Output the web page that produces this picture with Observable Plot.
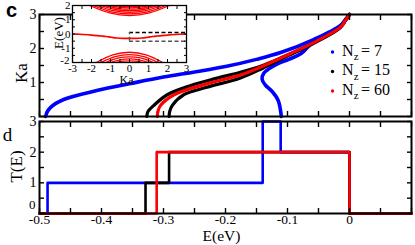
<!DOCTYPE html>
<html><head><meta charset="utf-8">
<script src="https://cdn.jsdelivr.net/npm/d3@7"></script>
<script src="https://cdn.jsdelivr.net/npm/@observablehq/plot@0.6"></script>
<style>
body{margin:0;background:#fff;}
#wrap{position:relative;width:415px;height:245px;overflow:hidden;background:#fff;}
#wrap svg{position:absolute;left:0;top:0;}
</style></head><body><div id="wrap"></div>
<script>
// ---------- data: panel c, Ka versus E ----------
const E_n7_main  = [-0.490,-0.488,-0.482,-0.461,-0.406,-0.353,-0.300,-0.250,-0.200,-0.150,-0.111,-0.057,-0.015,-0.006,0.000];
const Ka_n7_main = [0,0.12,0.27,0.50,0.77,0.97,1.16,1.31,1.47,1.68,1.88,2.27,2.67,2.86,3.0];
const E_n7_branch  = [-0.110,-0.111,-0.115,-0.124,-0.136,-0.141,-0.138,-0.130,-0.117,-0.098,-0.078,-0.057,-0.015,-0.006,0.000];
const Ka_n7_branch = [0,0.15,0.47,0.72,0.93,1.10,1.28,1.40,1.54,1.68,1.85,2.22,2.66,2.85,3.0];
const E_n15_a  = [-0.327,-0.325,-0.316,-0.294,-0.256,-0.215,-0.176,-0.140,-0.111,-0.057,-0.015,-0.006,0.000];
const Ka_n15_a = [0,0.15,0.32,0.64,0.91,1.12,1.30,1.50,1.72,2.18,2.62,2.84,3.0];
const E_n15_b  = [-0.291,-0.290,-0.286,-0.267,-0.230,-0.176,-0.140,-0.111,-0.057,-0.015,-0.006,0.000];
const Ka_n15_b = [0,0.15,0.32,0.64,0.86,1.13,1.42,1.68,2.16,2.61,2.84,3.0];
const E_n60  = [-0.310,-0.309,-0.305,-0.283,-0.230,-0.176,-0.140,-0.111,-0.057,-0.015,-0.006,0.000];
const Ka_n60 = [0,0.15,0.32,0.64,0.96,1.22,1.48,1.72,2.18,2.62,2.84,3.0];

// ---------- data: panel d, T(E) steps ----------
const stepE_n7  = [-0.5,-0.487,-0.140,-0.111,0,0.1];
const stepT_n7  = [0,1,3,2,0,0];
const stepE_n15 = [-0.5,-0.329,-0.291,0,0.1];
const stepT_n15 = [0,1,2,0,0];
const stepE_n60 = [-0.5,-0.311,0,0.1];
const stepT_n60 = [0,2,0,0];

// ---------- data: inset bands ----------
const upperBandKa = [
  [-2.10,-1.05,0,1.05,2.10],
  [-1.92,-0.96,0,0.96,1.92],
  [-1.72,-0.86,0,0.86,1.72],
  [-1.50,-0.75,0,0.75,1.50],
  [-1.27,-0.64,0,0.64,1.27],
  [-1.02,-0.51,0,0.51,1.02],
  [-0.72,-0.36,0,0.36,0.72]];
const upperBandE = [
  [2,1.48,1.30,1.48,2],
  [2,1.56,1.41,1.56,2],
  [2,1.64,1.52,1.64,2],
  [2,1.72,1.63,1.72,2],
  [2,1.80,1.74,1.80,2],
  [2,1.87,1.84,1.87,2],
  [2,1.94,1.93,1.94,2]];
const lowerBandKa = [
  [-1.75,-0.88,0,0.88,1.75],
  [-1.50,-0.75,0,0.75,1.50],
  [-1.25,-0.63,0,0.63,1.25],
  [-1.00,-0.50,0,0.50,1.00],
  [-0.70,-0.35,0,0.35,0.70]];
const lowerBandE = [
  [-2,-1.46,-1.28,-1.46,-2],
  [-2,-1.59,-1.45,-1.59,-2],
  [-2,-1.70,-1.60,-1.70,-2],
  [-2,-1.81,-1.75,-1.81,-2],
  [-2,-1.91,-1.88,-1.91,-2]];
const boxKa = [0, 3];
const boxE = [-0.5, 0.1];

// ---------- ticks and labels ----------
const xTickLabels = [-0.5,-0.4,-0.3,-0.2,-0.1,0];
const xTickMarks = [-0.5,-0.45,-0.4,-0.35,-0.3,-0.25,-0.2,-0.15,-0.1,-0.05,0,0.05,0.1];
const kaTickLabels = [1,2,3];
const yTickMarks = [0,0.5,1,1.5,2,2.5,3];
const tTickLabels = [1,2,3];
const tTickZero = [0];
const insetXLabels = [-3,-2,-1,0,1,2,3];
const insetXMarks = [-3,-2.5,-2,-1.5,-1,-0.5,0,0.5,1,1.5,2,2.5,3];
const insetYLabels = [-1,0,1,2];
const insetYLow = [-2];
const insetYMarks = [-2,-1.5,-1,-0.5,0,0.5,1,1.5,2];
const legendNz = ["7","15","60"];
const colors = {n7:"#0000ff", n15:"#000000", n60:"#ff0000"};

// ---------- build tables ----------
const zip = (xs, ys, kx, ky) => xs.map((v,i) => ({[kx]: v, [ky]: ys[i]}));
const c7a = zip(E_n7_main, Ka_n7_main, "E", "Ka");
const c7b = zip(E_n7_branch, Ka_n7_branch, "E", "Ka");
const c15a = zip(E_n15_a, Ka_n15_a, "E", "Ka");
const c15b = zip(E_n15_b, Ka_n15_b, "E", "Ka");
const c60 = zip(E_n60, Ka_n60, "E", "Ka");
const s7 = zip(stepE_n7, stepT_n7, "E", "T");
const s15 = zip(stepE_n15, stepT_n15, "E", "T");
const s60 = zip(stepE_n60, stepT_n60, "E", "T");
const bands = [];
upperBandKa.forEach((ks,b) => ks.forEach((k,i) => bands.push({band:"u"+b, Ka:k, E:upperBandE[b][i]})));
lowerBandKa.forEach((ks,b) => ks.forEach((k,i) => bands.push({band:"l"+b, Ka:k, E:lowerBandE[b][i]})));
const flat = [...c60.slice().reverse().map(d => ({Ka:-d.Ka, E:d.E})), ...c60.slice(1).map(d => ({Ka:d.Ka, E:d.E}))];

const font = "'Liberation Serif','Times New Roman',serif";
const style = {fontFamily: font, background: "transparent", overflow: "visible", color: "black"};
const fmt = d => String(d);
const blank = () => "";
const mid = {textAnchor:"middle", lineAnchor:"middle"};

function frameAxes(xt, yt, size, sw) {
  return [
    Plot.axisX({anchor:"bottom", ticks:xt, tickSize:-size, tickFormat:blank, label:null, strokeWidth:sw}),
    Plot.axisX({anchor:"top", ticks:xt, tickSize:-size, tickFormat:blank, label:null, strokeWidth:sw}),
    Plot.axisY({anchor:"left", ticks:yt, tickSize:-size, tickFormat:blank, label:null, strokeWidth:sw}),
    Plot.axisY({anchor:"right", ticks:yt, tickSize:-size, tickFormat:blank, label:null, strokeWidth:sw})
  ];
}

// ---------- panel c ----------
const legendMarks = [];
[["n7",0],["n15",1],["n60",2]].forEach(([k,i]) => {
  const base = 55 + i*19.5 - 14;
  legendMarks.push(
    Plot.dot([0], {frameAnchor:"top-left", dx:332-39, dy:base-3.5, r:1.7, fill:colors[k], stroke:null}),
    Plot.text(["N"], {frameAnchor:"top-left", dx:341.5-39, dy:base, textAnchor:"start", lineAnchor:"bottom", fontSize:16}),
    Plot.text(["z"], {frameAnchor:"top-left", dx:353.2-39, dy:base+4.5, textAnchor:"start", lineAnchor:"bottom", fontSize:11}),
    Plot.text(["= " + legendNz[i]], {frameAnchor:"top-left", dx:360.5-39, dy:base, textAnchor:"start", lineAnchor:"bottom", fontSize:16})
  );
});

const panelC = Plot.plot({
  width:415, height:245, marginLeft:39, marginRight:4, marginTop:14, marginBottom:129,
  x:{domain:[-0.5,0.1]}, y:{domain:[0,3]}, style,
  marks: [
    Plot.line(c7a, {x:"E", y:"Ka", stroke:colors.n7, strokeWidth:3.6, curve:"catmull-rom"}),
    Plot.line(c7b, {x:"E", y:"Ka", stroke:colors.n7, strokeWidth:3.6, curve:"catmull-rom"}),
    Plot.line(c15a, {x:"E", y:"Ka", stroke:colors.n15, strokeWidth:3.2, curve:"catmull-rom"}),
    Plot.line(c15b, {x:"E", y:"Ka", stroke:colors.n15, strokeWidth:3.2, curve:"catmull-rom"}),
    Plot.line(c60, {x:"E", y:"Ka", stroke:colors.n60, strokeWidth:3.2, curve:"catmull-rom"}),
    Plot.frame({stroke:"black", strokeWidth:2}),
    ...frameAxes(xTickMarks, yTickMarks, 5, 1.4),
    Plot.axisY({anchor:"left", ticks:kaTickLabels, tickSize:0, tickPadding:3, tickFormat:fmt, label:null, fontSize:14}),
    Plot.text(["Ka"], {frameAnchor:"left", dx:-17.5, dy:7.5, rotate:-90, fontSize:17, ...mid}),
    Plot.text(["c"], {frameAnchor:"top-left", dx:-28, dy:-4, fontSize:20, fontWeight:"bold", fontFamily:"'Liberation Sans',sans-serif", ...mid}),
    ...legendMarks
  ]
});

// ---------- panel d ----------
const panelD = Plot.plot({
  width:415, height:245, marginLeft:39, marginRight:4, marginTop:121, marginBottom:32,
  x:{domain:[-0.5,0.1]}, y:{domain:[0,3]}, style,
  marks: [
    Plot.line(s7, {x:"E", y:"T", stroke:colors.n7, strokeWidth:2.6, curve:"step-after"}),
    Plot.line(s15, {x:"E", y:"T", stroke:colors.n15, strokeWidth:2.6, curve:"step-after"}),
    Plot.line(s60, {x:"E", y:"T", stroke:colors.n60, strokeWidth:2.6, curve:"step-after"}),
    Plot.frame({stroke:"black", strokeWidth:2}),
    ...frameAxes(xTickMarks, yTickMarks, 5, 1.4),
    Plot.axisY({anchor:"left", ticks:tTickLabels, tickSize:0, tickPadding:3, tickFormat:fmt, label:null, fontSize:14}),
    Plot.axisY({anchor:"left", ticks:tTickZero, tickSize:0, tickPadding:4, dy:-8.5, tickFormat:fmt, label:null, fontSize:13}),
    Plot.axisX({anchor:"bottom", ticks:xTickLabels, tickSize:0, tickPadding:1, tickFormat:fmt, label:null, fontSize:13.5}),
    Plot.text(["T(E)"], {frameAnchor:"left", dx:-23, dy:-1, rotate:-90, fontSize:17, ...mid}),
    Plot.text(["E(eV)"], {frameAnchor:"bottom", dx:-4, dy:23, fontSize:15.5, ...mid}),
    Plot.text(["d"], {frameAnchor:"top-left", dx:-32, dy:13, fontSize:19, ...mid})
  ]
});

// ---------- inset ----------
const panelInset = Plot.plot({
  width:415, height:245, marginLeft:72, marginRight:229, marginTop:5, marginBottom:183,
  x:{domain:[-3,3]}, y:{domain:[-2,2]}, style,
  marks: [
    Plot.frame({fill:"white", stroke:null}),
    Plot.line(bands, {x:"Ka", y:"E", z:"band", stroke:"#ff0000", strokeWidth:1.3, curve:"catmull-rom", clip:true}),
    Plot.line(flat, {x:"Ka", y:"E", stroke:"#ff0000", strokeWidth:1.6, curve:"catmull-rom", clip:true}),
    Plot.ruleY([boxE[1]], {x1:boxKa[0], x2:boxKa[1], stroke:"black", strokeWidth:1.5, strokeDasharray:"4,2.5"}),
    Plot.ruleY([boxE[0]], {x1:boxKa[0], x2:boxKa[1], stroke:"#555", strokeWidth:1.5, strokeDasharray:"4,2.5"}),
    Plot.ruleX([boxKa[0]], {y1:boxE[0], y2:boxE[1], stroke:"#555", strokeWidth:1.5, strokeDasharray:"4,2.5"}),
    Plot.frame({stroke:"black", strokeWidth:1.3}),
    ...frameAxes(insetXMarks, insetYMarks, 3, 1),
    Plot.axisX({anchor:"bottom", ticks:insetXLabels, tickSize:0, tickPadding:1.5, tickFormat:fmt, label:null, fontSize:11}),
    Plot.axisY({anchor:"left", ticks:insetYLabels, tickSize:0, tickPadding:2, tickFormat:fmt, label:null, fontSize:11}),
    Plot.axisY({anchor:"left", ticks:insetYLow, tickSize:0, tickPadding:3, dy:-2, tickFormat:fmt, label:null, fontSize:11}),
    Plot.text(["E(eV)"], {frameAnchor:"left", dx:-14, dy:-1, rotate:-90, fontSize:13, ...mid}),
    Plot.text(["Ka"], {frameAnchor:"bottom", dx:-3, dy:18, fontSize:12, ...mid})
  ]
});

const wrap = document.getElementById("wrap");
wrap.appendChild(panelC);
wrap.appendChild(panelD);
wrap.appendChild(panelInset);
</script>
</body></html>
